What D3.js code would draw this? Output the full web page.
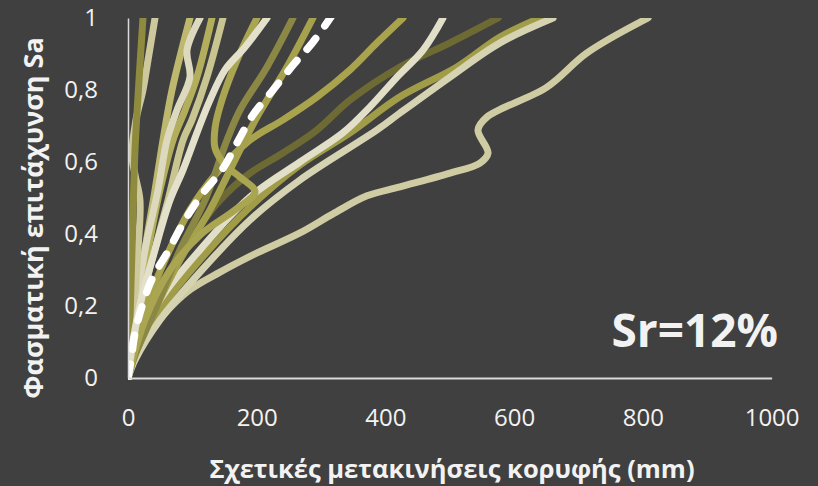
<!DOCTYPE html>
<html>
<head>
<meta charset="utf-8">
<script src="https://cdn.jsdelivr.net/npm/d3@7"></script>
<style>
  html, body { margin: 0; padding: 0; background: #404040; }
  svg { display: block; }
  text { font-family: "Open Sans", "Noto Sans", sans-serif; fill: #f2f2f2; }
</style>
</head>
<body>
<svg id="chart" width="818" height="486"></svg>
<script>
// Incremental dynamic analysis curves: roof drift (mm) vs spectral acceleration Sa
const xTicks = [0, 200, 400, 600, 800, 1000];
const yTicks = [0, 0.2, 0.4, 0.6, 0.8, 1];
const yTickLabels = ["0", "0,2", "0,4", "0,6", "0,8", "1"];

const rec01 = [[0,0],[3.1,0.161],[6.2,0.356],[10.9,0.633],[17.1,0.828],[23.3,1]];
const rec02 = [[0,0],[7.8,0.161],[15.5,0.356],[18.6,0.494],[10.9,0.564],[6.2,0.619],[12.4,0.717],[23.3,0.8],[31.1,0.883],[42,1]];
const rec03 = [[0,0],[12.4,0.161],[26.4,0.356],[42,0.522],[54.4,0.661],[68.4,0.8],[96.3,1]];
const rec04 = [[0,0],[9.3,0.161],[26.4,0.356],[46.6,0.522],[60.6,0.661],[76.1,0.744],[96.3,0.836],[91.7,0.911],[111.9,1]];
const rec05 = [[0,0],[10.9,0.161],[31.1,0.356],[49.7,0.522],[69.9,0.661],[88.6,0.744],[107.2,0.836],[130.5,1]];
const rec06 = [[0,0],[14,0.161],[37.3,0.328],[62.2,0.494],[85.5,0.661],[99.4,0.717],[122.7,0.836],[147.6,1]];
const rec07 = [[0,0],[3.1,0.05],[18.6,0.203],[42,0.356],[65.3,0.494],[85.5,0.578],[108.8,0.689],[127.4,0.772],[150.7,0.856],[181.8,0.919],[216,1]];
const rec08 = [[0,0],[26.4,0.161],[65.3,0.3],[111.9,0.397],[166.3,0.467],[197.3,0.517],[174,0.558],[150.7,0.592],[135.2,0.639],[135.2,0.694],[146,0.772],[169.4,0.883],[200.4,1]];
const rec09 = [[0,0],[10.9,0.064],[42,0.189],[80.8,0.356],[119.6,0.494],[153.8,0.661],[174,0.744],[216,0.864],[256.4,1]];
const rec10 = [[0,0],[7.8,0.05],[34.2,0.161],[80.8,0.328],[127.4,0.467],[166.3,0.606],[200.4,0.725],[247,0.864],[287.4,1]];
const rec11 = [[0,0],[26.4,0.189],[57.5,0.328],[96.3,0.467],[135.2,0.564],[189.6,0.661],[240.8,0.717],[293.7,0.781],[345,0.856],[386.9,0.931],[427.3,1]];
const rec12 = [[0,0],[18.6,0.133],[49.7,0.244],[96.3,0.383],[143,0.494],[189.6,0.569],[240.8,0.625],[293.7,0.689],[345,0.772],[422.6,0.864],[500.3,0.931],[575,1]];
const rec13 = [[0,0],[10.9,0.064],[49.7,0.189],[111.9,0.328],[189.6,0.475],[267.2,0.592],[345,0.681],[422.6,0.781],[511.2,0.864],[578,0.947],[640,1]];
const rec14 = [[0,0],[10.9,0.05],[49.7,0.161],[111.9,0.294],[189.6,0.439],[267.2,0.55],[386.9,0.689],[422.6,0.736],[500.3,0.836],[578,0.931],[660.4,1]];
const rec15 = [[0,0],[10.9,0.078],[49.7,0.217],[111.9,0.356],[189.6,0.503],[267.2,0.6],[334,0.681],[376,0.753],[418,0.836],[458.4,0.911],[489.4,1]];
const rec16 = [[0,0],[4.7,0.03],[18.6,0.092],[38.8,0.142],[91.7,0.239],[143,0.294],[194.2,0.342],[267.2,0.403],[318.5,0.456],[371.4,0.506],[422.6,0.531],[500.3,0.569],[546.9,0.597],[559.4,0.625],[543.8,0.689],[557.8,0.725],[651,0.808],[713.2,0.903],[808,1]];
const median = [[0,0],[4.7,0.05],[10.9,0.125],[23.3,0.208],[38.8,0.281],[60.6,0.347],[88.6,0.439],[116.5,0.514],[146,0.578],[169.4,0.653],[194.2,0.731],[225.3,0.8],[256.4,0.869],[287.4,0.933],[318,1.01]];

const records = [rec16, rec12, rec13, rec14, rec11, rec15, rec10, rec09, rec08, rec06, rec05, rec03, rec04, rec02, rec01, rec07];
const recordColors = ["#cfcca3", "#6d6a33", "#a19c48", "#d6d3b2", "#a8a34c", "#e1dfc8", "#a6a14c", "#8b8744", "#a9a550",
                      "#c9c590", "#b3ae5c", "#bdb86d", "#dcd9bf", "#cdc99c", "#8e8a3e", "#e3e1cb"];

const svg = d3.select("#chart");
const W = 818, H = 486;
svg.append("rect").attr("width", W).attr("height", H).attr("fill", "#404040");

const x = d3.scaleLinear().domain([0, 1000]).range([128, 771.6]);
const y = d3.scaleLinear().domain([0, 1]).range([378, 18]);

svg.append("clipPath").attr("id", "plot-clip")
  .append("rect")
  .attr("x", x(0)).attr("y", y(1))
  .attr("width", x(1000) - x(0)).attr("height", y(0) - y(1) + 2);

const line = d3.line()
  .x(d => x(d[0]))
  .y(d => y(d[1]))
  .curve(d3.curveCatmullRom.alpha(0.5));

const plot = svg.append("g").attr("clip-path", "url(#plot-clip)");

plot.selectAll("path.record")
  .data(records)
  .join("path")
  .attr("class", "record")
  .attr("d", line)
  .attr("fill", "none")
  .attr("stroke", (d, i) => recordColors[i])
  .attr("stroke-width", 7)
  .attr("stroke-linecap", "round")
  .attr("stroke-linejoin", "round");

// Median curve: dashes spaced so that both ends finish on a dash
const medianPath = plot.append("path")
  .datum(median)
  .attr("d", line)
  .attr("fill", "none")
  .attr("stroke", "#ffffff")
  .attr("stroke-width", 7.5)
  .attr("stroke-linecap", "round");
const L = medianPath.node().getTotalLength();
const dash = 14;
const n = Math.round((L - dash) / 30);
const gap = (L - dash) / n - dash;
medianPath.attr("stroke-dasharray", `${dash},${gap}`);

// Axes
const xAxis = d3.axisBottom(x).tickValues(xTicks).tickSize(0).tickPadding(31).tickFormat(d3.format("d"));
const yAxis = d3.axisLeft(y).tickValues(yTicks).tickSize(0).tickPadding(30)
  .tickFormat((d, i) => yTickLabels[i]);

const gx = svg.append("g").attr("transform", `translate(0,${y(0)})`).call(xAxis);
const gy = svg.append("g").attr("transform", `translate(${x(0)},0)`).call(yAxis);

gx.select(".domain").attr("stroke", "#d9d9d9").attr("stroke-width", 2);
gy.select(".domain").attr("stroke", "#d9d9d9").attr("stroke-width", 1.5);
[gx, gy].forEach(g => g.selectAll("text")
  .attr("fill", "#f2f2f2")
  .style("font-family", "'Open Sans', sans-serif")
  .style("font-size", "24px"));

// Axis titles
svg.append("text")
  .attr("x", 452).attr("y", 478)
  .attr("text-anchor", "middle")
  .style("font-size", "25.5px").style("font-weight", "700")
  .text("Σχετικές μετακινήσεις κορυφής (mm)");

svg.append("text")
  .attr("transform", "translate(43,218) rotate(-90)")
  .attr("text-anchor", "middle")
  .style("font-size", "27px").style("font-weight", "700")
  .text("Φασματική επιτάχυνση Sa");

// Corner annotation
svg.append("text")
  .attr("x", 778).attr("y", 347)
  .attr("text-anchor", "end")
  .style("font-size", "46px").style("font-weight", "700")
  .attr("fill", "#ffffff")
  .text("Sr=12%");
</script>
</body>
</html>
